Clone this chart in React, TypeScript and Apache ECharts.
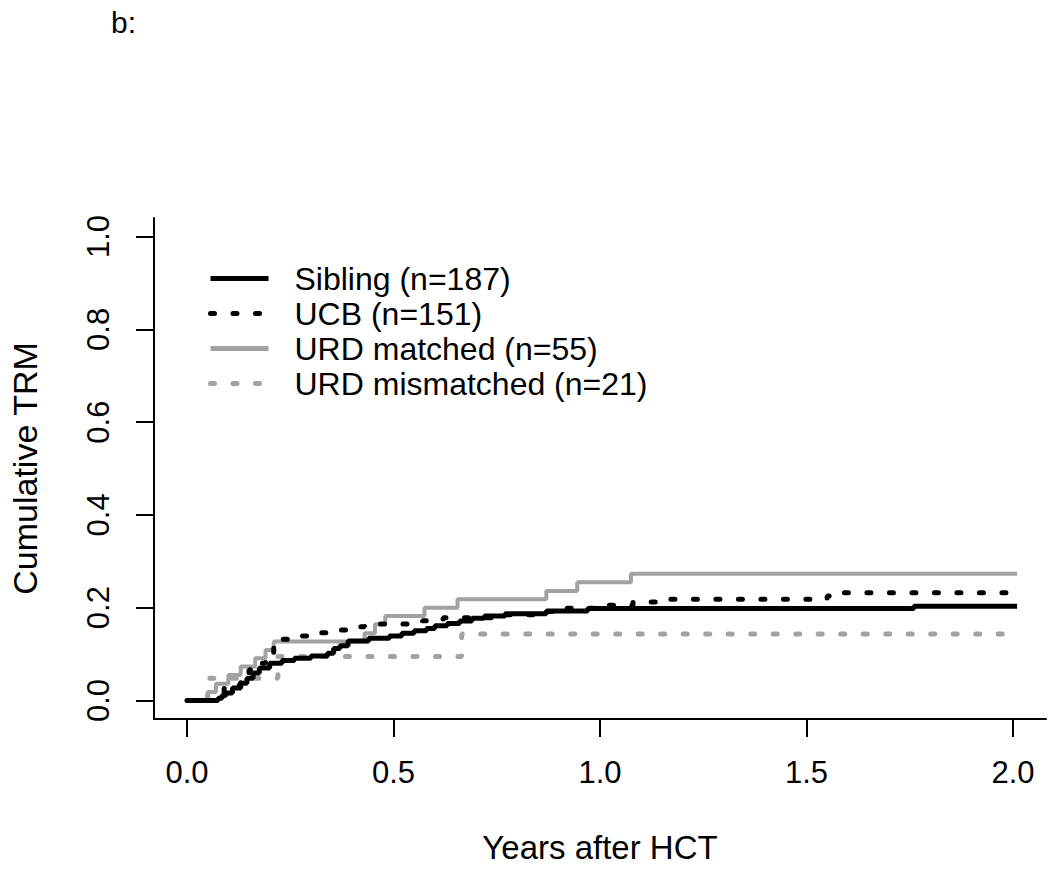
import React, { useEffect, useRef } from "react";
import * as echarts from "echarts";

const seriesNames = [
  "Sibling (n=187)",
  "UCB (n=151)",
  "URD matched (n=55)",
  "URD mismatched (n=21)",
];

const siblingData: [number, number][] = [
  [0, 0], [0.07, 0], [0.075, 0.005], [0.085, 0.011], [0.095, 0.016], [0.11, 0.027],
  [0.13, 0.037], [0.145, 0.048], [0.16, 0.059], [0.175, 0.07], [0.2, 0.08],
  [0.23, 0.086], [0.26, 0.091], [0.3, 0.096], [0.34, 0.102], [0.355, 0.112],
  [0.37, 0.118], [0.39, 0.128], [0.44, 0.134], [0.49, 0.139], [0.52, 0.145],
  [0.55, 0.15], [0.58, 0.155], [0.6, 0.161], [0.63, 0.166], [0.66, 0.171],
  [0.69, 0.177], [0.72, 0.182], [0.77, 0.187], [0.87, 0.193], [0.97, 0.198],
  [1.76, 0.203], [2.01, 0.203],
];

const ucbData: [number, number][] = [
  [0, 0], [0.07, 0], [0.08, 0.013], [0.09, 0.026], [0.11, 0.033], [0.13, 0.046],
  [0.15, 0.066], [0.17, 0.08], [0.19, 0.099], [0.21, 0.126], [0.23, 0.132],
  [0.26, 0.139], [0.3, 0.146], [0.36, 0.152], [0.41, 0.159], [0.43, 0.165],
  [0.57, 0.172], [0.62, 0.178], [0.75, 0.185], [0.85, 0.192], [0.9, 0.199],
  [1.0, 0.205], [1.08, 0.212], [1.17, 0.218], [1.55, 0.225], [1.57, 0.232],
  [2.01, 0.232],
];

const urdMatchedData: [number, number][] = [
  [0, 0], [0.05, 0.018], [0.07, 0.036], [0.1, 0.055], [0.13, 0.073], [0.165, 0.091],
  [0.19, 0.109], [0.21, 0.127], [0.43, 0.145], [0.455, 0.164], [0.48, 0.182],
  [0.575, 0.2], [0.655, 0.218], [0.87, 0.236], [0.945, 0.255], [1.075, 0.273],
  [2.01, 0.273],
];

const urdMismatchedData: [number, number][] = [
  [0, 0], [0.05, 0.048], [0.22, 0.095], [0.665, 0.143], [2.01, 0.143],
];

const xTicks = [0, 0.5, 1, 1.5, 2];
const yTicks = [0, 0.2, 0.4, 0.6, 0.8, 1.0];

const FONT = "Liberation Sans, Arial, sans-serif";
const GRAY = "#a2a2a2";
const DOTS = [4, 18.5];

export default function App() {
  const ref = useRef<HTMLDivElement>(null);
  useEffect(() => {
    if (!ref.current) return;
    const chart = echarts.init(ref.current, undefined, { renderer: "svg" });
    const mk = (name: string, data: [number, number][], color: string, dashed: boolean, width: number) => ({
      name,
      type: "line",
      step: "end",
      data,
      symbol: "none",
      showSymbol: false,
      lineStyle: {
        color,
        width,
        type: dashed ? DOTS : "solid",
        cap: dashed ? "round" : "butt",
      },
      itemStyle: { color },
      z: 2,
    });
    chart.setOption({
      animation: false,
      backgroundColor: "#fff",
      title: {
        text: "b:",
        left: 106,
        top: 2,
        textStyle: { fontFamily: FONT, fontSize: 30, fontWeight: "normal", color: "#000" },
      },
      legend: {
        orient: "vertical",
        left: 203,
        top: 256,
        itemWidth: 58,
        itemHeight: 14,
        itemGap: 0,
        data: seriesNames,
        itemStyle: { opacity: 0 },
        lineStyle: { width: 5 },
        textStyle: {
          fontFamily: FONT,
          fontSize: 32,
          color: "#000",
          lineHeight: 35,
          padding: [0, 0, 0, 21],
        },
      },
      grid: { left: 144, right: 4, top: 218, bottom: 145, containLabel: false },
      xAxis: {
        type: "value",
        min: -0.08,
        max: 2.08,
        splitLine: { show: false },
        axisLine: { show: true, onZero: false, lineStyle: { color: "#000", width: 2 } },
        axisTick: { show: true, length: 18, customValues: xTicks, lineStyle: { color: "#000", width: 2 } },
        axisLabel: {
          customValues: xTicks,
          formatter: (v: number) => v.toFixed(1),
          margin: 38,
          fontFamily: FONT,
          fontSize: 31,
          color: "#000",
        },
        name: "Years after HCT",
        nameLocation: "middle",
        nameGap: 112,
        nameTextStyle: { fontFamily: FONT, fontSize: 33, color: "#000" },
      },
      yAxis: {
        type: "value",
        min: -0.04,
        max: 1.04,
        splitLine: { show: false },
        axisLine: { show: true, onZero: false, lineStyle: { color: "#000", width: 2 } },
        axisTick: { show: true, length: 18, customValues: yTicks, lineStyle: { color: "#000", width: 2 } },
        axisLabel: {
          customValues: yTicks,
          formatter: (v: number) => v.toFixed(1),
          rotate: 90,
          margin: 40,
          fontFamily: FONT,
          fontSize: 31,
          color: "#000",
        },
        name: "Cumulative TRM",
        nameLocation: "middle",
        nameRotate: 90,
        nameGap: 112,
        nameTextStyle: { fontFamily: FONT, fontSize: 34, color: "#000" },
      },
      series: [
        mk(seriesNames[2], urdMatchedData, GRAY, false, 4),
        mk(seriesNames[3], urdMismatchedData, GRAY, true, 5),
        mk(seriesNames[0], siblingData, "#000", false, 5),
        mk(seriesNames[1], ucbData, "#000", true, 5),
      ],
    });
    return () => chart.dispose();
  }, []);
  return (
    <div
      ref={ref}
      style={{ position: "absolute", left: 0, top: 0, width: 1050, height: 869 }}
    />
  );
}
